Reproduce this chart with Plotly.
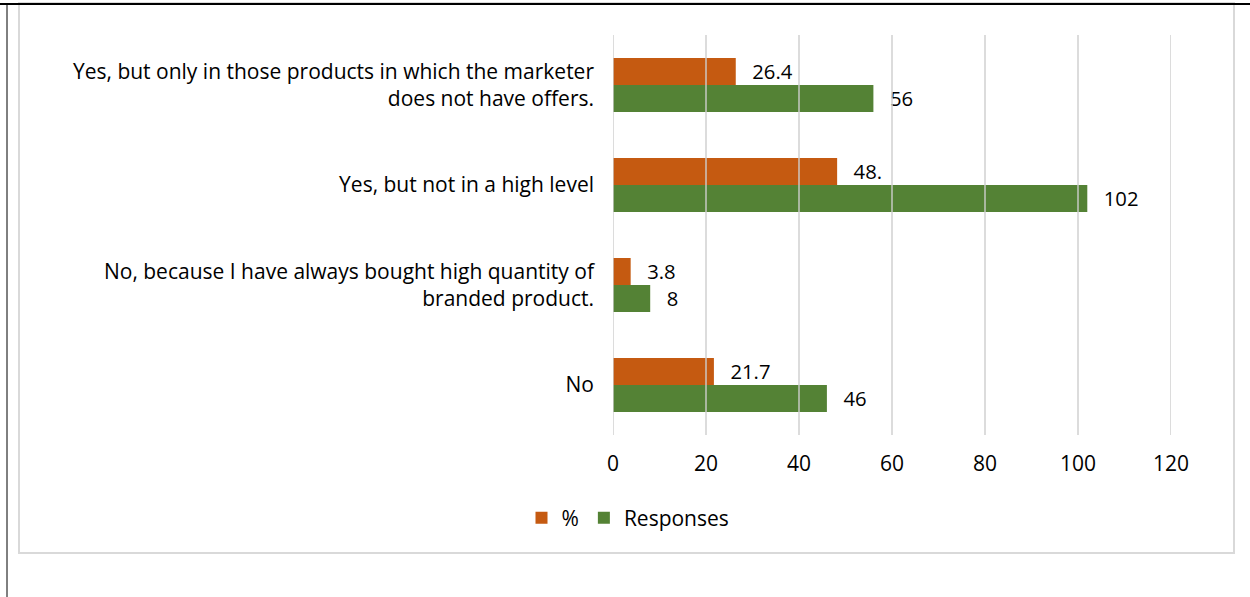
import plotly.graph_objects as go

categories = [
    "Yes, but only in those products in which the marketer<br>does not have offers.",
    "Yes, but not in a high level",
    "No, because I have always bought high quantity of<br>branded product.",
    "No",
]
pct_values = [26.4, 48.2, 3.8, 21.7]
pct_labels = ["26.4", "48.", "3.8", "21.7"]
resp_values = [56, 102, 8, 46]
resp_labels = ["56", "102", "8", "46"]
x_ticks = [0, 20, 40, 60, 80, 100, 120]

ORANGE = "#C55A11"
GREEN = "#548235"
FONT = "Open Sans"
FS = 21
PAD = "\u2002\u2009"

fig = go.Figure()
fig.add_trace(go.Bar(
    name="%", y=categories, x=pct_values, orientation="h",
    marker=dict(color=ORANGE, line=dict(width=0)),
    text=[PAD + t for t in pct_labels], textposition="outside",
    textfont=dict(family=FONT, size=FS, color="black"), cliponaxis=False,
))
fig.add_trace(go.Bar(
    name="Responses", y=categories, x=resp_values, orientation="h",
    marker=dict(color=GREEN, line=dict(width=0)),
    text=[PAD + t for t in resp_labels], textposition="outside",
    textfont=dict(family=FONT, size=FS, color="black"), cliponaxis=False,
))

W, H = 1250, 597
L, R, T, B = 613, 1250 - 1171, 35, 597 - 435
pw, ph = W - L - R, H - T - B

def px(xp):
    return (xp - L) / pw

def py(yp):
    return (H - B - yp) / ph

shapes = []
for t in x_ticks:
    shapes.append(dict(type="line", xref="x", yref="paper", x0=t, x1=t, y0=0, y1=1,
                       line=dict(color="rgba(205,205,205,0.7)", width=2), layer="above"))
# outer light gray frame
shapes.append(dict(type="rect", xref="paper", yref="paper",
                   x0=px(19), x1=px(1234), y0=py(553), y1=py(3),
                   line=dict(color="#D9D9D9", width=2), layer="below"))
# black document lines
shapes.append(dict(type="line", xref="paper", yref="paper",
                   x0=px(-5), x1=px(1260), y0=py(4), y1=py(4),
                   line=dict(color="black", width=2)))
shapes.append(dict(type="line", xref="paper", yref="paper",
                   x0=px(7), x1=px(7), y0=py(4), y1=py(610),
                   line=dict(color="black", width=1)))

fig.update_layout(
    width=W, height=H,
    margin=dict(l=L, r=R, t=T, b=B, pad=0),
    paper_bgcolor="white", plot_bgcolor="white",
    barmode="group", bargap=0.46, bargroupgap=0,
    font=dict(family=FONT, size=FS, color="black"),
    showlegend=True,
    legend=dict(orientation="h", x=px(628), xanchor="center", y=py(518), yanchor="middle",
                font=dict(family=FONT, size=FS, color="black"), itemwidth=30,
                traceorder="normal"),
    xaxis=dict(range=[0, 120], tickvals=x_ticks, showgrid=False, zeroline=False,
               showline=False, ticks="", ticklabelstandoff=14,
               tickfont=dict(family=FONT, size=FS, color="black"), fixedrange=True),
    yaxis=dict(autorange="reversed", showgrid=False, zeroline=False, showline=False,
               ticks="", ticklabelstandoff=18,
               tickfont=dict(family=FONT, size=FS, color="black"), fixedrange=True),
    shapes=shapes,
)

fig.write_html("out.html")
